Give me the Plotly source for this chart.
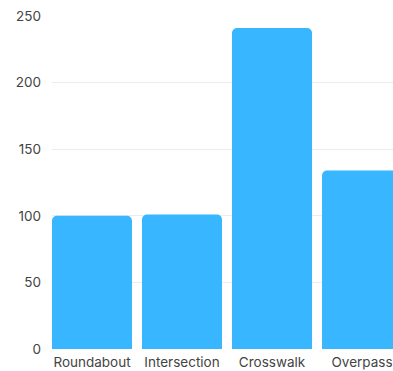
import plotly.graph_objects as go

categories = ["Roundabout", "Intersection", "Crosswalk", "Overpass"]
counts = [100, 101, 241, 134]
y_ticks = [0, 50, 100, 150, 200, 250]

fig = go.Figure(
    go.Bar(
        x=categories,
        y=counts,
        marker=dict(color="#38B6FF", line=dict(width=0), cornerradius=5),
        hoverinfo="x+y",
    )
)

fig.update_layout(
    width=393,
    height=371,
    margin=dict(l=52, r=0, t=16, b=22),
    paper_bgcolor="white",
    plot_bgcolor="white",
    bargap=0.111,
    showlegend=False,
    font=dict(family="Inter, Open Sans, sans-serif", size=13, color="#555555"),
)

fig.update_xaxes(
    range=[-0.444, 3.344],
    showgrid=False,
    showline=False,
    zeroline=False,
    ticks="",
    ticklabelstandoff=3,
    tickfont=dict(size=13.5, color="#444444"),
)

fig.update_yaxes(
    range=[0, 250],
    tickvals=y_ticks,
    showgrid=True,
    gridcolor="#ececec",
    gridwidth=1,
    zeroline=False,
    showline=False,
    ticks="",
    ticklabelstandoff=10,
    tickfont=dict(size=13.5, color="#444444"),
)

fig.write_html("out.html")
